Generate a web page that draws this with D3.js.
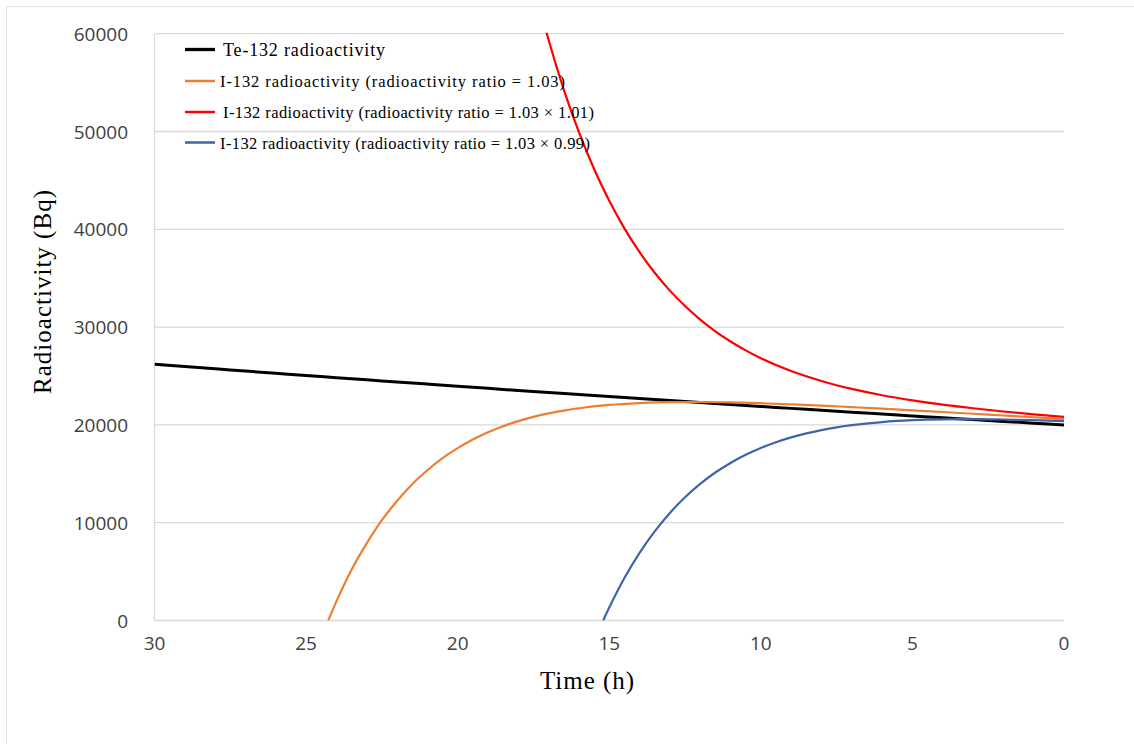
<!DOCTYPE html>
<html>
<head>
<meta charset="utf-8">
<script src="https://cdn.jsdelivr.net/npm/d3@7.9.0/dist/d3.min.js"></script>
<style>
  body { margin: 0; background: #fff; }
  svg { display: block; }
</style>
</head>
<body>
<svg id="chart" width="1134" height="744"></svg>
<script>
const teTime = [30, 29, 28, 27, 26, 25, 24, 23, 22, 21, 20, 19, 18, 17, 16, 15, 14, 13, 12, 11, 10, 9, 8, 7, 6, 5, 4, 3, 2, 1, 0];
const teValues = [26210, 25970, 25740, 25510, 25280, 25050, 24830, 24610, 24390, 24170, 23950, 23740, 23520, 23310, 23100, 22900, 22690, 22490, 22280, 22080, 21890, 21690, 21500, 21300, 21110, 20920, 20730, 20550, 20360, 20180, 20000];

const orangeTime = [24.27, 24, 23.5, 23, 22.5, 22, 21.5, 21, 20.5, 20, 19.5, 19, 18.5, 18, 17.5, 17, 16.5, 16, 15, 14, 13, 12, 11, 10, 9, 8, 7, 6, 5, 4, 3, 2, 1, 0];
const orangeValues = [0, 1960, 5200, 7890, 10260, 12220, 13940, 15360, 16600, 17630, 18510, 19250, 19870, 20390, 20820, 21180, 21460, 21700, 22040, 22230, 22330, 22340, 22300, 22220, 22100, 21970, 21820, 21660, 21490, 21320, 21140, 20960, 20780, 20600];

const redTime = [17.5, 17, 16.5, 16, 15.5, 15, 14.5, 14, 13.5, 13, 12.5, 12, 11.5, 11, 10.5, 10, 9, 8, 7, 6, 5, 4, 3, 2, 1, 0];
const redValues = [65220, 59350, 54290, 49930, 46160, 42910, 40090, 37660, 35560, 33730, 32150, 30770, 29570, 28530, 27620, 26820, 25510, 24490, 23680, 23030, 22510, 22070, 21700, 21370, 21080, 20820];

const blueTime = [15.2, 15, 14.5, 14, 13.5, 13, 12.5, 12, 11.5, 11, 10.5, 10, 9.5, 9, 8.5, 8, 7.5, 7, 6, 5, 4, 3, 2, 1, 0];
const blueValues = [0, 1320, 4340, 6920, 9120, 11000, 12600, 13970, 15130, 16110, 16940, 17640, 18230, 18720, 19130, 19470, 19750, 19970, 20290, 20480, 20570, 20590, 20550, 20480, 20380];

const seriesNames = [
  "Te-132 radioactivity",
  "I-132 radioactivity (radioactivity ratio = 1.03)",
  "I-132 radioactivity (radioactivity ratio = 1.03 × 1.01)",
  "I-132 radioactivity (radioactivity ratio = 1.03 × 0.99)"
];
const seriesColors = ["#000000", "#ed7d31", "#ff0000", "#3f64ab"];
const seriesWidths = [3, 2.2, 2.2, 2.2];

const xTicks = [30, 25, 20, 15, 10, 5, 0];
const yTicks = [0, 10000, 20000, 30000, 40000, 50000, 60000];

const series = [
  teTime.map((t, i) => ({ t, v: teValues[i] })),
  orangeTime.map((t, i) => ({ t, v: orangeValues[i] })),
  redTime.map((t, i) => ({ t, v: redValues[i] })),
  blueTime.map((t, i) => ({ t, v: blueValues[i] }))
];

const svg = d3.select("#chart");
const grid = "#d9d9d9";

// outer frame of the picture
svg.append("rect")
  .attr("x", 6.5).attr("y", 6.5)
  .attr("width", 1140).attr("height", 760)
  .attr("fill", "none").attr("stroke", "#e3e3e3");

const x = d3.scaleLinear().domain([30, 0]).range([154.5, 1064]);
const y = d3.scaleLinear().domain([0, 60000]).range([620.5, 33.7]);

// horizontal gridlines
svg.append("g")
  .selectAll("line")
  .data(yTicks)
  .join("line")
  .attr("x1", x(30)).attr("x2", x(0))
  .attr("y1", (d) => y(d)).attr("y2", (d) => y(d))
  .attr("stroke", grid).attr("stroke-width", 1.3);

// left axis line
svg.append("line")
  .attr("x1", x(30)).attr("x2", x(30))
  .attr("y1", y(60000)).attr("y2", y(0))
  .attr("stroke", grid).attr("stroke-width", 1.3);

// tick labels
svg.append("g")
  .selectAll("text")
  .data(yTicks)
  .join("text")
  .attr("x", 128)
  .attr("y", (d) => y(d) + 7)
  .attr("text-anchor", "end")
  .attr("font-family", "'Open Sans', sans-serif")
  .attr("font-size", 19)
  .attr("fill", "#404040")
  .text((d) => d);

svg.append("g")
  .selectAll("text")
  .data(xTicks)
  .join("text")
  .attr("x", (d) => x(d))
  .attr("y", 650)
  .attr("text-anchor", "middle")
  .attr("font-family", "'Open Sans', sans-serif")
  .attr("font-size", 19)
  .attr("fill", "#404040")
  .text((d) => d);

// axis titles
svg.append("text")
  .attr("x", 587).attr("y", 689)
  .attr("text-anchor", "middle")
  .attr("font-family", "'Liberation Serif', 'Times New Roman', serif")
  .attr("font-size", 25)
  .attr("textLength", 94)
  .attr("lengthAdjust", "spacing")
  .attr("fill", "#000")
  .text("Time (h)");

svg.append("text")
  .attr("transform", "translate(51,292) rotate(-90)")
  .attr("text-anchor", "middle")
  .attr("font-family", "'Liberation Serif', 'Times New Roman', serif")
  .attr("font-size", 25)
  .attr("textLength", 204)
  .attr("lengthAdjust", "spacing")
  .attr("fill", "#000")
  .text("Radioactivity (Bq)");

// clip the lines to the plot area
svg.append("clipPath").attr("id", "plot-clip")
  .append("rect")
  .attr("x", x(30)).attr("y", y(60000) - 1)
  .attr("width", x(0) - x(30) + 2).attr("height", y(0) - y(60000) + 1);

const line = d3.line()
  .x((d) => x(d.t))
  .y((d) => y(d.v))
  .curve(d3.curveMonotoneX);

const lines = svg.append("g").attr("clip-path", "url(#plot-clip)");
series.forEach((data, idx) => {
  lines.append("path")
    .datum(data)
    .attr("d", line)
    .attr("fill", "none")
    .attr("stroke", seriesColors[idx])
    .attr("stroke-width", seriesWidths[idx])
    .attr("stroke-linejoin", "round");
});

// legend
const legendY = [49.5, 81, 112, 142.5];
const legendTextX = [223, 220, 223, 220];
const legendLen = [162, 345, 371, 370];
const legend = svg.append("g");
seriesNames.forEach((name, idx) => {
  legend.append("line")
    .attr("x1", 185).attr("x2", 215)
    .attr("y1", legendY[idx]).attr("y2", legendY[idx])
    .attr("stroke", seriesColors[idx])
    .attr("stroke-width", seriesWidths[idx] + 0.3);
  legend.append("text")
    .attr("x", legendTextX[idx])
    .attr("y", legendY[idx] + 6)
    .attr("font-family", "'Liberation Serif', 'Times New Roman', serif")
    .attr("font-size", idx === 0 ? 18 : 16.5)
    .attr("fill", "#000")
    .attr("textLength", legendLen[idx])
    .attr("lengthAdjust", "spacing")
    .text(name);
});
</script>
</body>
</html>
